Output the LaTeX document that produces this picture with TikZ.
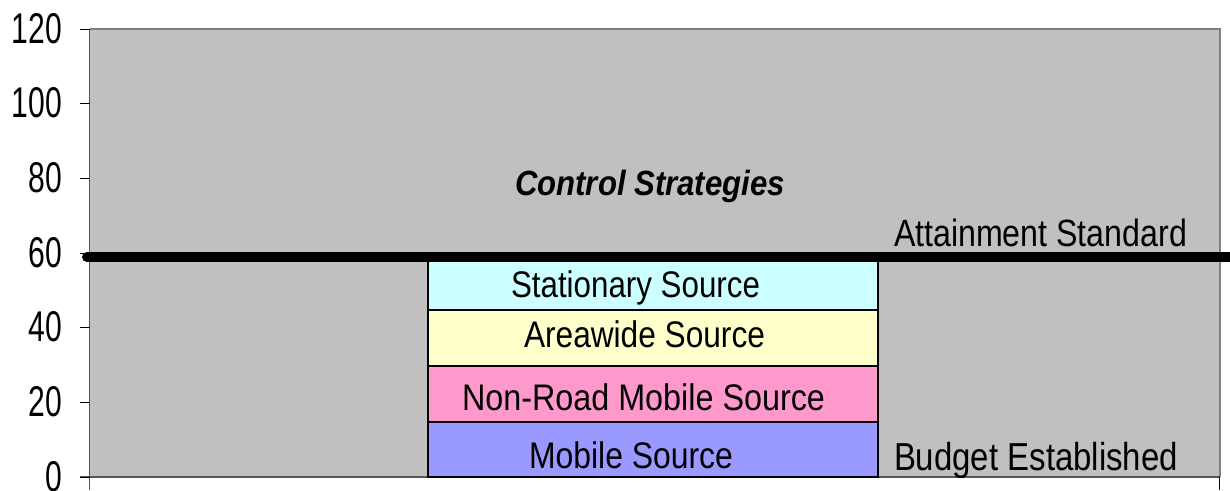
\documentclass[tikz,border=0pt]{standalone}
\usepackage{fontspec}
\setmainfont{Liberation Sans}
\usepackage{graphicx}
\definecolor{plotgray}{HTML}{C0C0C0}
\definecolor{framegray}{HTML}{808080}
\definecolor{axisdark}{HTML}{555555}
\definecolor{cmobile}{HTML}{9999FF}
\definecolor{cnonroad}{HTML}{FF99CC}
\definecolor{careawide}{HTML}{FFFFCC}
\definecolor{cstationary}{HTML}{CCFFFF}
\newcommand{\fitw}[3]{\resizebox{#1pt}{\height}{\fontsize{#2pt}{#2pt}\selectfont #3}}
\newcommand{\tickl}[1]{\scalebox{0.70}[1]{\fontsize{43pt}{43pt}\selectfont #1}}
\tikzset{
  lab/.style={anchor=base west, inner sep=0pt, outer sep=0pt},
  ticklab/.style={anchor=base east, inner sep=0pt, outer sep=0pt},
  segment/.style={draw=black, line width=2pt},
}
\begin{document}
\begin{tikzpicture}[x=1pt,y=-1pt]
\useasboundingbox (0,0) rectangle (1230,490);
\fill[white] (0,0) rectangle (1230,490);
% plot area
\fill[plotgray] (89.5,29) rectangle (1220,477);
\draw[framegray, line width=1.5pt] (89.5,29) -- (1220,29) -- (1220,477);
\draw[axisdark, line width=1.5pt] (89.5,29) -- (89.5,490);
\draw[axisdark, line width=1.5pt] (80,477) -- (1220,477);
\draw[black, line width=0.8pt] (1219.5,477) -- (1219.5,490);
% ticks and labels
\foreach \v/\yy in {0/477,20/402.33,40/327.67,60/253,80/178.33,100/103.67,120/29}{
  \draw[black, line width=1pt] (80,\yy) -- (89.5,\yy);
  \node[ticklab] (t\v) at (62,\yy+14) {\tickl{\v}};
}
% stacked bar
\draw[segment, fill=cmobile] (428,477) rectangle (878,421.5);
\draw[segment, fill=cnonroad] (428,421.5) rectangle (878,365.5);
\draw[segment, fill=careawide] (428,365.5) rectangle (878,310);
\draw[segment, fill=cstationary] (428,310) rectangle (878,253);
% attainment line
\draw[black, line width=10pt, line cap=round] (87,257) -- (1232,257);
% labels
\node[lab] (ctrl) at (515,195) {\fitw{270}{35}{\bfseries\itshape Control Strategies}};
\node[lab] (stat) at (511,297.5) {\fitw{249}{37}{Stationary Source}};
\node[lab] (area) at (524,347.3) {\fitw{241}{37}{Areawide Source}};
\node[lab] (nonroad) at (462,410) {\fitw{363}{37}{Non-Road Mobile Source}};
\node[lab] (mobile) at (529,468.3) {\fitw{204}{37}{Mobile Source}};
\node[lab] (attain) at (894,246.7) {\fitw{293}{38}{Attainment Standard}};
\node[lab] (budget) at (894,470) {\fitw{284}{39}{Budget Established}};
\end{tikzpicture}
\end{document}
